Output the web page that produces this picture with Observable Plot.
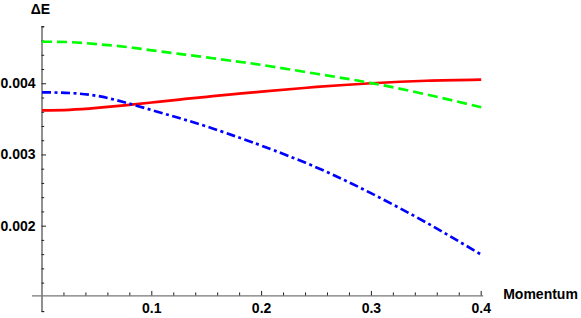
<!DOCTYPE html>
<html>
<head>
<meta charset="utf-8">
<script src="https://cdn.jsdelivr.net/npm/d3@7"></script>
<script src="https://cdn.jsdelivr.net/npm/@observablehq/plot@0.6"></script>
<style>
  html, body { margin: 0; padding: 0; background: #fff; }
  #chart svg { display: block; }
</style>
</head>
<body>
<div id="chart"></div>
<script>
// Data
const momentum    = [0, 0.025, 0.05, 0.075, 0.1, 0.125, 0.15, 0.175, 0.2, 0.25, 0.3, 0.35, 0.4];
const redSolid    = [0.003625, 0.003633, 0.00366, 0.003697, 0.003737, 0.003778, 0.003817, 0.003854, 0.00389, 0.003955, 0.004007, 0.004042, 0.004058];
const greenDash   = [0.00459, 0.004585, 0.004557, 0.00452, 0.00447, 0.00442, 0.00437, 0.004318, 0.004265, 0.00414, 0.00401, 0.00385, 0.00367];
const blueDotDash = [0.00388, 0.00387, 0.00383, 0.00374, 0.00363, 0.003518, 0.0034, 0.003268, 0.00313, 0.002825, 0.00246, 0.00205, 0.0016];
const xTicks      = [0.1, 0.2, 0.3, 0.4];
const xTickLabels = ["0.1", "0.2", "0.3", "0.4"];
const yTicks      = [0.002, 0.003, 0.004];
const yTickLabels = ["0.002", "0.003", "0.004"];
const xLabel = "Momentum";
const yLabel = "ΔE";
const axisOriginY = 0.00102;

const xMinor = d3.range(1, 20).map(i => i * 0.02).filter(v => Math.abs(v * 10 - Math.round(v * 10)) > 1e-6);
const yMinor = d3.range(4, 25).map(i => i * 0.0002).filter(v => Math.abs(v * 1000 - Math.round(v * 1000)) > 1e-6);

const series = [
  {name: "red", values: redSolid, color: "#ff0000", dash: null},
  {name: "green", values: greenDash, color: "#00ff00", dash: "10,5"},
  {name: "blue", values: blueDotDash, color: "#0000ff", dash: "9,3.5,3,3.5"}
];
const rows = series.flatMap(s => momentum.map((m, i) => ({x: m, y: s.values[i], name: s.name})));

const font = "'Liberation Sans', Arial, sans-serif";
const txt = {fontSize: 14, fontWeight: "bold", fill: "#000", fontFamily: font};

const chart = Plot.plot({
  width: 581,
  height: 318,
  marginLeft: 41.5,
  marginRight: 100.3,
  marginTop: 26.3,
  marginBottom: 6.9,
  style: {background: "#fff", fontFamily: font},
  x: {domain: [0, 0.4], axis: null},
  y: {domain: [0.0008, 0.0048], axis: null},
  marks: [
    // y axis line
    Plot.ruleX([0], {y1: 0.0008, y2: 0.0048, stroke: "#222", strokeWidth: 1}),
    // x axis line
    Plot.ruleY([axisOriginY], {x1: 0, x2: 0.4, insetLeft: -9.5, insetRight: -2.5, stroke: "#777", strokeWidth: 1.3}),
    // y ticks
    Plot.ruleY(yTicks, {x1: 0, x2: 0, insetRight: -4.5, stroke: "#222"}),
    Plot.ruleY(yMinor, {x1: 0, x2: 0, insetRight: -2.7, stroke: "#222"}),
    Plot.ruleY([0.0048, 0.0008], {x1: 0, x2: 0, insetRight: -2.7, stroke: "#222"}),
    // x ticks
    Plot.ruleX(xTicks, {y1: axisOriginY, y2: axisOriginY, insetBottom: 4.5, stroke: "#222"}),
    Plot.ruleX(xMinor, {y1: axisOriginY, y2: axisOriginY, insetBottom: 3, stroke: "#222"}),
    // y tick labels
    Plot.text(yTicks, {x: 0, y: d => d, text: (d, i) => yTickLabels[i], textAnchor: "end", dx: -6.5, ...txt}),
    // x tick labels
    Plot.text(xTicks, {x: d => d, y: axisOriginY, text: (d, i) => xTickLabels[i], dy: 12.5, ...txt}),
    // axis labels
    Plot.text([xLabel], {x: 0.4, y: axisOriginY, text: d => d, textAnchor: "start", dx: 22, dy: -1, ...txt}),
    Plot.text([yLabel], {x: 0, y: 0.0048, text: d => d, dy: -17.5, dx: -1.5, ...txt}),
    // curves
    ...series.map(s => Plot.line(rows.filter(r => r.name === s.name), {
      x: "x", y: "y", stroke: s.color, strokeWidth: 2.7, curve: "natural",
      strokeDasharray: s.dash, strokeLinecap: "butt"
    }))
  ]
});
document.getElementById("chart").appendChild(chart);
</script>
</body>
</html>
